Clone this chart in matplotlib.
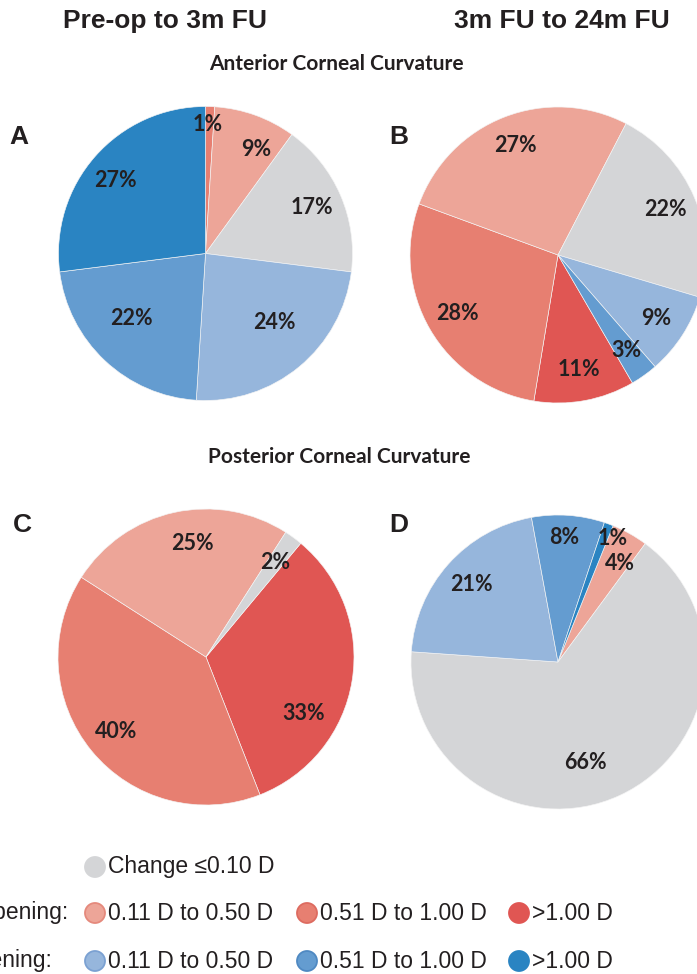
import numpy as np
import matplotlib
matplotlib.use("Agg")
import matplotlib.pyplot as plt
from matplotlib.patches import Circle

W, H = 697, 974

# categories in clockwise order round each pie
CATEGORIES = ["Steepening >1.00 D", "Steepening 0.51 D to 1.00 D",
              "Steepening 0.11 D to 0.50 D", "Change \u22640.10 D",
              "Flattening 0.11 D to 0.50 D", "Flattening 0.51 D to 1.00 D",
              "Flattening >1.00 D"]
A_VALUES = [0, 1, 9, 17, 24, 22, 27]   # anterior, pre-op to 3m
B_VALUES = [11, 28, 27, 22, 9, 3, 0]   # anterior, 3m to 24m
C_VALUES = [33, 40, 25, 2, 0, 0, 0]    # posterior, pre-op to 3m
D_VALUES = [0, 0, 4, 66, 21, 8, 1]     # posterior, 3m to 24m

COLORS = ["#E05653", "#E77F71", "#EDA598", "#D4D5D7",
          "#96B6DC", "#649CD0", "#2A84C2"]
EDGES = [None, "#DD6B60", "#E5897C", None, "#7BA1D2", "#4F89C2", None]

DARK = "#231F20"
SANS = ["Liberation Sans", "DejaVu Sans"]
LBL = ["Lato", "DejaVu Sans"]

fig = plt.figure(figsize=(W / 100, H / 100), dpi=100)
ax = fig.add_axes([0, 0, 1, 1])


def Y(y):
    # pixel row from the top -> data y
    return H - y


# (values, centre, radius, startangle, letter, letter pos)
panels = [
    (A_VALUES, (205.5, 253.5), 147, 90.0, "A", (19, 137)),
    (B_VALUES, (558, 255), 148, -59.8, "B", (399, 137)),
    (C_VALUES, (206, 657), 148, 50.2, "C", (22, 525)),
    (D_VALUES, (558, 662), 147, 68.0, "D", (399, 525)),
]

# hand tweaks for excel's "best fit" label spots: (panel, category) -> (r frac, angle)
label_fix = {
    ("A", 1): (0.88, 89), ("A", 2): (0.79, 64), ("A", 4): (0.66, -45),
    ("A", 5): (0.67, -139), ("A", 6): (0.79, 141),
    ("C", 0): (0.76, -30), ("C", 2): (0.77, 97),
    ("D", 0): (0.92, 66), ("D", 6): (0.92, 66), ("D", 5): (0.85, 87),
    ("D", 3): (0.71, -75), ("D", 2): (0.79, 58),
}

for vals, c, r, start, letter, lpos in panels:
    vals = np.array(vals, dtype=float)
    keep = np.nonzero(vals)[0]
    wedges, _ = ax.pie(vals[keep], colors=[COLORS[i] for i in keep],
                       startangle=start, counterclock=False,
                       center=(c[0], Y(c[1])), radius=r,
                       wedgeprops=dict(edgecolor="#F4F4F4", linewidth=0.45))
    for w, i in zip(wedges, keep):
        mid = 0.5 * (w.theta1 + w.theta2)
        frac, ang = label_fix.get((letter, i), (0.79, mid))
        x = c[0] + frac * r * np.cos(np.radians(ang))
        y = Y(c[1]) + frac * r * np.sin(np.radians(ang))
        ax.text(x, y, f"{int(vals[i])}%", ha="center", va="center",
                fontsize=15.5, fontweight="bold", family=LBL, color=DARK)
    ax.text(lpos[0], Y(lpos[1]), letter, ha="center", va="center",
            fontsize=19, fontweight="bold", family=SANS, color=DARK)

# titles
ax.text(165, Y(21), "Pre-op to 3m FU", ha="center", va="center",
        fontsize=19, fontweight="bold", family=SANS, color=DARK)
ax.text(562, Y(21), "3m FU to 24m FU", ha="center", va="center",
        fontsize=19, fontweight="bold", family=SANS, color=DARK)
ax.text(336, Y(64), "Anterior Corneal Curvature", ha="center", va="center",
        fontsize=15, fontweight="bold", family=LBL, color=DARK)
ax.text(339, Y(457), "Posterior Corneal Curvature", ha="center", va="center",
        fontsize=15, fontweight="bold", family=LBL, color=DARK)

# legend, drawn by hand
def legend_item(x, y, i, text):
    ec = EDGES[i] if EDGES[i] else COLORS[i]
    ax.add_patch(Circle((x, Y(y)), 10, facecolor=COLORS[i], edgecolor=ec,
                        linewidth=1.3))
    ax.text(x + 13, Y(y), text, ha="left", va="center", fontsize=16.5,
            family=SANS, color=DARK)

legend_item(95, 867, 3, "Change \u22640.10 D")
ax.text(-53, Y(913), "Steepening:", ha="left", va="center", fontsize=16.5,
        family=SANS, color=DARK)
ax.text(-55, Y(961), "Flattening:", ha="left", va="center", fontsize=16.5,
        family=SANS, color=DARK)
for row, idx in ((913, [2, 1, 0]), (961, [4, 5, 6])):
    for x, i in zip([95, 307, 519], idx):
        legend_item(x, row, i, CATEGORIES[i].split(" ", 1)[1])

ax.set_xlim(0, W)
ax.set_ylim(0, H)
ax.set_aspect("auto")
ax.axis("off")

fig.savefig("out.png", dpi=100, facecolor="white")
